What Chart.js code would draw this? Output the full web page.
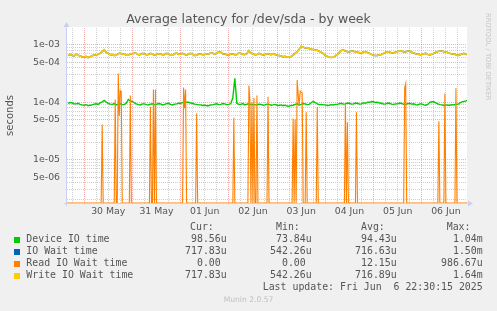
<!DOCTYPE html>
<html>
<head>
<meta charset="utf-8">
<script src="https://cdn.jsdelivr.net/npm/chart.js@4.4.1/dist/chart.umd.min.js"></script>
<style>
  body { margin: 0; background: #f0f0f0; }
  #wrap { position: relative; width: 497px; height: 311px; overflow: hidden; color: #555; font-family: 'DejaVu Sans', sans-serif; }
  canvas { position: absolute; left: 0; top: 0; }
  .t { position: absolute; white-space: pre; }
  .mono { font-family: 'DejaVu Sans Mono', monospace; font-size: 9.9px; line-height: 12px; }
  .box { position: absolute; width: 6px; height: 6px; }
</style>
</head>
<body>
<div id="wrap">
  <canvas id="c" width="497" height="311"></canvas>
  <div class="t" style="left:0;width:497px;top:10.6px;text-align:center;font-size:12.5px;line-height:15px;">Average latency for /dev/sda - by week</div>
  <div class="t" style="left:484px;top:13px;writing-mode:vertical-rl;font-size:6.8px;line-height:8px;color:#c4c4c4;">RRDTOOL / TOBI OETIKER</div>
  <div id="legend"></div>
  <div class="t" style="left:0;width:497px;top:294.9px;text-align:center;font-size:7.6px;line-height:10px;color:#c0c0c0;">Munin 2.0.57</div>
</div>
<script>
// x is hours since 30 May 00:00, graph spans 29 May 15:30 .. 06 Jun 22:30
const X_MIN = -8.5, X_MAX = 190.5;
const Y_MIN = 1.77e-6, Y_MAX = 1.96e-3;

const dayLabels = ['30 May', '31 May', '01 Jun', '02 Jun', '03 Jun', '04 Jun', '05 Jun', '06 Jun'];

// hourly samples starting at hour -8
const sampleStart = -8, sampleStep = 1;

// seconds x 1e-5
const deviceIoTime = [
  9.6, 9.9, 9.8, 9.4, 9.4, 9.6, 9.2, 9.0, 8.9, 9.1,
  8.7, 8.9, 9.0, 9.3, 9.4, 9.2, 9.8, 10.2, 10.8, 10.1,
  9.6, 9.3, 9.2, 9.5, 9.0, 9.3, 9.4, 9.1, 9.2, 9.6,
  11.2, 10.6, 10.4, 9.8, 9.4, 9.1, 9.0, 9.4, 9.4, 9.1,
  9.0, 9.3, 9.4, 9.1, 9.2, 9.5, 9.4, 9.0, 9.2, 9.5,
  9.6, 9.2, 9.0, 9.3, 9.4, 9.6, 9.6, 9.9, 10.2, 10.0,
  10.0, 9.7, 9.6, 9.3, 9.2, 9.0, 9.0, 8.8, 8.9, 8.7,
  8.7, 9.0, 9.0, 9.3, 9.4, 9.1, 9.2, 9.5, 9.4, 9.1,
  9.2, 9.5, 12.0, 26.0, 9.6, 9.2, 9.2, 9.5, 9.0, 9.3,
  9.4, 9.1, 9.2, 9.0, 9.0, 9.3, 9.2, 8.9, 9.0, 9.3,
  9.2, 8.9, 9.0, 9.2, 8.9, 8.8, 9.0, 8.7, 8.9, 8.6,
  8.5, 8.8, 8.9, 9.2, 9.4, 9.0, 9.2, 9.5, 9.4, 9.1,
  9.2, 9.8, 10.4, 9.9, 9.4, 9.1, 9.2, 9.0, 9.0, 8.8,
  8.9, 9.1, 9.0, 9.2, 9.2, 9.5, 9.6, 9.3, 9.4, 9.7,
  9.6, 9.3, 9.4, 9.7, 9.6, 9.3, 9.4, 9.8, 9.6, 10.0,
  10.0, 10.3, 10.2, 9.9, 10.0, 9.7, 9.6, 9.3, 9.4, 9.7,
  9.6, 9.3, 9.2, 9.4, 9.4, 9.7, 9.6, 9.2, 9.2, 9.5,
  9.6, 9.3, 9.4, 9.1, 9.0, 9.4, 9.4, 9.0, 8.9, 9.2,
  10.0, 10.2, 10.2, 9.8, 9.4, 9.1, 9.0, 8.8, 9.0, 8.9,
  8.9, 9.1, 9.0, 9.3, 9.2, 9.8, 10.2, 10.4, 10.6, 10.9
];

// seconds x 1e-4
const writeWaitTime = [
  6.5, 6.8, 6.6, 6.4, 6.9, 6.6, 6.4, 6.2, 6.1, 6.3,
  6.0, 6.2, 6.4, 6.7, 6.6, 6.9, 7.1, 7.6, 8.2, 7.4,
  7.1, 6.7, 6.8, 6.5, 6.6, 7.0, 7.2, 6.8, 6.9, 6.6,
  6.6, 7.0, 6.9, 7.2, 7.1, 6.7, 6.8, 7.1, 6.9, 6.7,
  6.8, 7.1, 6.9, 6.6, 6.8, 7.0, 6.9, 6.7, 6.8, 7.1,
  6.9, 6.6, 6.6, 7.0, 7.2, 6.8, 6.9, 7.1, 6.8, 6.6,
  6.9, 7.1, 6.8, 6.5, 6.6, 6.9, 6.9, 6.7, 6.8, 7.0,
  6.9, 7.2, 7.1, 6.9, 7.2, 7.5, 7.4, 7.0, 6.9, 6.7,
  6.6, 6.9, 6.9, 6.7, 6.8, 7.2, 7.1, 6.8, 6.8, 7.0,
  7.9, 7.2, 6.9, 6.7, 6.8, 7.1, 6.9, 6.6, 6.8, 7.0,
  6.9, 6.7, 7.0, 6.8, 6.6, 6.5, 6.4, 6.2, 6.3, 6.1,
  6.1, 6.3, 6.6, 7.1, 7.6, 8.4, 9.4, 9.1, 8.8, 8.9,
  8.6, 8.4, 8.3, 8.0, 8.0, 7.7, 7.4, 7.0, 6.5, 6.3,
  6.1, 6.0, 6.1, 6.4, 6.8, 7.3, 8.0, 8.1, 7.8, 7.6,
  7.5, 7.8, 7.8, 7.4, 7.5, 7.3, 7.2, 7.5, 7.6, 7.3,
  7.1, 6.8, 6.6, 6.5, 6.5, 6.7, 6.8, 7.1, 7.4, 7.6,
  7.5, 7.2, 7.2, 7.5, 7.6, 7.9, 7.8, 7.5, 7.5, 7.8,
  7.8, 7.4, 7.2, 7.0, 6.9, 6.7, 6.8, 7.0, 7.1, 6.8,
  6.6, 6.9, 7.1, 7.4, 7.6, 7.8, 7.8, 7.6, 7.5, 7.3,
  7.1, 6.9, 6.9, 6.7, 6.5, 6.7, 6.9, 7.1, 6.8, 6.9
];

// total IO wait is the write wait plus a negligible read part, drawn under the yellow
const ioWaitTime = writeWaitTime;

// read wait is zero except for these half-hour samples (seconds)
const readHours = [
  9.0, 15.5, 17.0, 17.5, 18.0, 18.5, 23.0, 33.0, 34.5, 35.5,
  49.5, 50.0, 50.5, 56.0, 74.5, 82.0, 82.5, 83.5, 84.5, 86.0,
  91.5, 104.0, 105.0, 106.0, 106.5, 107.0, 107.5, 108.0, 108.5, 110.5,
  116.0, 130.0, 131.0, 135.5, 159.5, 160.0, 176.5, 179.5, 185.0
];
const readValues = [
  4.1e-5, 1.12e-4, 3.17e-4, 5.75e-5, 1.6e-4, 1.54e-4, 1.31e-4, 8.3e-5, 1.67e-4, 1.67e-4,
  1.8e-4, 7.9e-5, 1.67e-4, 6.4e-5, 5.4e-5, 1.96e-4, 1.1e-4, 1.0e-4, 1.2e-4, 1.31e-4,
  1.25e-4, 5.2e-5, 5.0e-5, 2.43e-4, 1.4e-4, 8.6e-5, 1.56e-4, 1.5e-4, 1.46e-4, 6.7e-5,
  8.3e-5, 9.5e-5, 4.5e-5, 6.7e-5, 1.79e-4, 2.12e-4, 4.7e-5, 1.42e-4, 1.76e-4
];

const seriesNames = ['Device IO time', 'IO Wait time', 'Read IO Wait time', 'Write IO Wait time'];
const seriesColors = ['#00cc00', '#0066b3', '#ff8000', '#ffcc00'];
const curText = ['98.56u', '717.83u', '0.00 ', '717.83u'];
const minText = ['73.84u', '542.26u', '0.00 ', '542.26u'];
const avgText = ['94.43u', '716.63u', '12.15u', '716.89u'];
const maxText = ['1.04m', '1.50m', '986.67u', '1.64m'];
const lastUpdate = 'Last update: Fri Jun  6 22:30:15 2025';

// ---- build datasets
const toPoints = (arr, unit) => arr.map((v, i) => ({ x: sampleStart + i * sampleStep, y: v * unit }));
const readPoints = [];
for (let h = X_MIN; h <= X_MAX; h += 0.5) {
  const k = readHours.indexOf(h);
  const v = k >= 0 ? readValues[k] : 0;
  readPoints.push({ x: h, y: Math.max(v, Y_MIN) }); // zero sits on the bottom edge
}

const hourTicks = [];
for (let h = -6; h <= 186; h += 6) hourTicks.push(h);
const logTicks = [];
for (let e = -6; e <= -3; e++) for (let m = 1; m <= 9; m++) {
  const v = Number(m + 'e' + e);
  if (v >= Y_MIN && v <= Y_MAX) logTicks.push(v);
}
const expOf = v => Math.floor(Math.log10(v) + 1e-9);
const mantissa = v => Math.round(v / Math.pow(10, expOf(v)));

const RED = 'rgba(230,80,80,0.45)';
const GRAY = 'rgba(150,150,150,0.45)';
const AXIS = '#c9d0f4';
const tickFont = { family: 'DejaVu Sans', size: 9.33 };

const frame = {
  id: 'frame',
  beforeDraw(chart) {
    const { ctx, chartArea: a } = chart;
    ctx.save();
    ctx.fillStyle = '#fff';
    ctx.fillRect(a.left, a.top - 1, a.right - a.left, a.bottom - a.top + 1);
    ctx.restore();
  },
  afterDraw(chart) {
    const { ctx, chartArea: a } = chart;
    ctx.save();
    ctx.strokeStyle = AXIS;
    ctx.fillStyle = AXIS;
    ctx.lineWidth = 1;
    ctx.beginPath();
    ctx.moveTo(a.left - 0.5, a.bottom + 3);
    ctx.lineTo(a.left - 0.5, a.top - 2);
    ctx.moveTo(a.left - 3, a.bottom + 0.5);
    ctx.lineTo(a.right + 2, a.bottom + 0.5);
    ctx.stroke();
    ctx.beginPath();
    ctx.moveTo(a.left - 0.5, a.top - 6);
    ctx.lineTo(a.left - 3.5, a.top - 1);
    ctx.lineTo(a.left + 2.5, a.top - 1);
    ctx.closePath();
    ctx.moveTo(a.right + 6, a.bottom + 0.5);
    ctx.lineTo(a.right + 1, a.bottom - 2.5);
    ctx.lineTo(a.right + 1, a.bottom + 3.5);
    ctx.closePath();
    ctx.fill();
    ctx.restore();
  }
};

new Chart(document.getElementById('c'), {
  type: 'line',
  data: {
    datasets: [
      { label: seriesNames[0], data: toPoints(deviceIoTime, 1e-5), borderColor: seriesColors[0], borderWidth: 1.4, order: 4 },
      { label: seriesNames[1], data: toPoints(ioWaitTime, 1e-4), borderColor: seriesColors[1], borderWidth: 1.5, order: 3 },
      { label: seriesNames[2], data: readPoints, borderColor: seriesColors[2], borderWidth: 1.1, order: 2, clip: 2 },
      { label: seriesNames[3], data: toPoints(writeWaitTime, 1e-4), borderColor: seriesColors[3], borderWidth: 1.6, order: 1 }
    ]
  },
  options: {
    responsive: false,
    animation: false,
    devicePixelRatio: 1,
    elements: { point: { radius: 0 }, line: { tension: 0 } },
    layout: { padding: { left: 0, right: 30, top: 28, bottom: 88 } },
    plugins: { legend: { display: false }, tooltip: { enabled: false }, title: { display: false } },
    scales: {
      x: {
        type: 'linear', min: X_MIN, max: X_MAX,
        afterBuildTicks: s => { s.ticks = hourTicks.map(v => ({ value: v })); },
        afterFit: s => { s.height = 20; },
        ticks: {
          autoSkip: false, maxRotation: 0, padding: 3, color: '#555', font: tickFont,
          callback: v => (((v % 24) + 24) % 24 === 12 ? dayLabels[(v - 12) / 24] : '')
        },
        grid: { drawTicks: false, lineWidth: 1, color: c => (c.tick && c.tick.value % 24 === 0 ? RED : GRAY) },
        border: { display: false, dash: [1, 1] }
      },
      y: {
        type: 'logarithmic', min: Y_MIN, max: Y_MAX,
        afterBuildTicks: s => { s.ticks = logTicks.map(v => ({ value: v })); },
        afterFit: s => { s.width = 67; },
        ticks: {
          autoSkip: false, padding: 7, color: '#555', font: tickFont,
          callback: v => {
            const m = mantissa(v);
            return m === 1 || m === 5 ? m + 'e-' + String(-expOf(v)).padStart(2, '0') : '';
          }
        },
        grid: {
          drawTicks: false, lineWidth: 1,
          color: c => {
            if (!c.tick) return GRAY;
            const m = mantissa(c.tick.value);
            return m === 1 || m === 5 ? RED : GRAY;
          }
        },
        border: { display: false, dash: [1, 1] },
        title: { display: true, text: 'seconds', color: '#555', font: { family: 'DejaVu Sans', size: 10 }, padding: { top: 4, bottom: 0 } }
      }
    }
  },
  plugins: [frame]
});

// ---- legend table under the graph
const legend = document.getElementById('legend');
function put(text, style) {
  const d = document.createElement('div');
  d.className = 't mono';
  d.style.cssText = style;
  d.textContent = text;
  legend.appendChild(d);
}
const headTop = 221.3, rowTop = 233.3, rowGap = 12;
put('Cur:', `left:190px;top:${headTop}px`);
put('Min:', `left:276px;top:${headTop}px`);
put('Avg:', `left:361px;top:${headTop}px`);
put('Max:', `left:446.7px;top:${headTop}px`);
seriesNames.forEach((name, i) => {
  const top = rowTop + i * rowGap;
  const b = document.createElement('div');
  b.className = 'box';
  b.style.cssText = `left:14px;top:${top + 3.5}px;background:${seriesColors[i]}`;
  legend.appendChild(b);
  put(name, `left:26.3px;top:${top}px`);
  put(curText[i], `right:${497 - 226.7}px;top:${top}px`);
  put(minText[i], `right:${497 - 311.7}px;top:${top}px`);
  put(avgText[i], `right:${497 - 396.7}px;top:${top}px`);
  put(maxText[i], `right:${497 - 482.7}px;top:${top}px`);
});
put(lastUpdate, `right:${497 - 482.7}px;top:${rowTop + 4 * rowGap}px`);
</script>
</body>
</html>
